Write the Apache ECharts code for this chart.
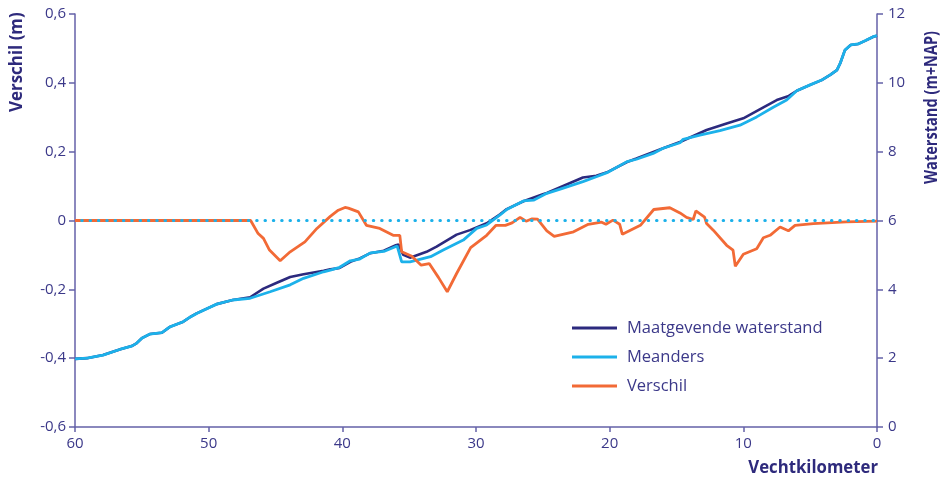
<!DOCTYPE html>
<html>
<head>
<meta charset="utf-8">
<script src="https://cdn.jsdelivr.net/npm/echarts@6/dist/echarts.min.js"></script>
<style>
  html, body { margin: 0; padding: 0; background: #ffffff; }
  #chart { width: 948px; height: 480px; }
</style>
</head>
<body>
<div id="chart"></div>
<script>
// River kilometre along the Vecht (x) with water levels and their difference.
const kmTicks = [60, 50, 40, 30, 20, 10, 0];
const verschilTicks = [-0.6, -0.4, -0.2, 0, 0.2, 0.4, 0.6];
const waterstandTicks = [0, 2, 4, 6, 8, 10, 12];

// Meanders: [km, waterstand m+NAP]
const meanders = [
  [60, 1.98], [59.1, 2.0], [57.9, 2.09], [56.6, 2.26], [55.76, 2.35], [55.4, 2.43],
  [55.0, 2.58], [54.4, 2.70], [53.5, 2.74], [52.9, 2.91], [51.9, 3.06], [51.4, 3.19],
  [50.9, 3.30], [49.4, 3.57], [48.2, 3.69], [46.9, 3.74], [45.4, 3.93], [43.9, 4.13],
  [42.9, 4.32], [41.4, 4.51], [40.9, 4.56], [40.2, 4.64], [39.4, 4.83], [38.7, 4.88],
  [37.9, 5.06], [36.9, 5.10], [35.9, 5.26], [35.56, 4.80], [34.94, 4.80], [33.4, 4.95],
  [32.45, 5.14], [30.95, 5.43], [29.95, 5.77], [29.2, 5.87], [28.2, 6.16], [27.7, 6.32],
  [26.45, 6.57], [25.7, 6.59], [24.7, 6.79], [23.7, 6.91], [22.0, 7.13], [21.0, 7.27],
  [20.2, 7.39], [18.7, 7.71], [18.0, 7.78], [16.75, 7.95], [16.0, 8.10], [14.74, 8.26],
  [14.5, 8.36], [13.25, 8.48], [11.75, 8.61], [10.25, 8.77], [9.0, 9.01], [7.76, 9.29],
  [6.76, 9.50], [6.0, 9.77], [5.0, 9.94], [4.14, 10.08], [3.5, 10.23], [3.0, 10.37],
  [2.75, 10.57], [2.4, 10.95], [1.97, 11.10], [1.4, 11.13], [0.9, 11.22], [0.28, 11.34],
  [0, 11.37]
];

// Maatgevende waterstand: [km, waterstand m+NAP]
const maatgevend = [
  [60, 1.98], [59.1, 2.0], [57.9, 2.09], [56.6, 2.26], [55.76, 2.35], [55.4, 2.43],
  [55.0, 2.58], [54.4, 2.70], [53.5, 2.74], [52.9, 2.91], [51.9, 3.06], [51.4, 3.19],
  [50.9, 3.30], [49.4, 3.57], [48.2, 3.69], [46.9, 3.77], [45.9, 4.02], [44.9, 4.19],
  [43.9, 4.36], [42.9, 4.44], [41.4, 4.54], [40.9, 4.58], [40.2, 4.62], [39.4, 4.80],
  [38.7, 4.90], [37.9, 5.05], [36.9, 5.12], [36.0, 5.28], [35.8, 5.30], [35.44, 5.00],
  [34.94, 4.92], [33.7, 5.09], [32.95, 5.24], [31.45, 5.59], [30.45, 5.72], [29.2, 5.92],
  [28.2, 6.18], [27.7, 6.33], [26.45, 6.56], [25.0, 6.76], [24.7, 6.80], [22.0, 7.25],
  [21.0, 7.30], [20.2, 7.40], [18.7, 7.70], [18.0, 7.80], [16.0, 8.10], [14.74, 8.28],
  [12.75, 8.63], [11.25, 8.82], [10.0, 8.97], [8.5, 9.29], [7.5, 9.50], [6.6, 9.62],
  [6.0, 9.77], [5.0, 9.94], [4.14, 10.08], [3.5, 10.23], [3.0, 10.37], [2.75, 10.57],
  [2.4, 10.95], [1.97, 11.10], [1.4, 11.13], [0.9, 11.22], [0.28, 11.34], [0, 11.37]
];

// Verschil: [km, m]
const verschil = [
  [60, 0], [46.86, 0], [46.3, -0.038], [45.9, -0.052], [45.45, -0.086], [44.65, -0.117],
  [43.9, -0.091], [42.8, -0.062], [41.9, -0.023], [40.9, 0.012], [40.3, 0.030],
  [39.8, 0.038], [39.55, 0.036], [38.8, 0.025], [38.2, -0.014], [37.2, -0.023],
  [36.2, -0.043], [35.7, -0.043], [35.56, -0.091], [34.8, -0.104], [34.1, -0.130],
  [33.5, -0.125], [32.8, -0.166], [32.15, -0.207], [31.45, -0.154], [30.4, -0.079],
  [29.2, -0.043], [28.5, -0.014], [27.8, -0.014], [27.3, -0.007], [26.7, 0.009],
  [26.25, -0.002], [25.8, 0.005], [25.4, 0.004], [24.7, -0.030], [24.15, -0.046],
  [22.7, -0.033], [21.6, -0.011], [20.6, -0.005], [20.28, -0.011], [19.75, 0.001],
  [19.25, -0.011], [19.05, -0.040], [17.7, -0.014], [16.7, 0.032], [15.5, 0.037],
  [14.74, 0.022], [14.25, 0.009], [13.75, 0.003], [13.55, 0.028], [12.9, 0.010],
  [12.75, -0.009], [12.25, -0.028], [11.25, -0.072], [10.77, -0.086], [10.6, -0.133],
  [10.0, -0.098], [9.0, -0.082], [8.5, -0.050], [8.0, -0.043], [7.25, -0.019],
  [6.63, -0.030], [6.13, -0.014], [4.76, -0.009], [2.3, -0.004], [0, -0.002]
];

const FONT = '"Open Sans", sans-serif';
const AXIS_COLOR = '#6461a8';
const LABEL_COLOR = '#3b3889';
const TITLE_COLOR = '#2e2a7c';

const fmtComma = v => (Math.abs(v) < 1e-9 ? '0' : v.toFixed(1).replace('.', ','));

const chart = echarts.init(document.getElementById('chart'), null, { renderer: 'canvas' });

const tickStyle = { show: true, inside: false, length: 6, lineStyle: { color: AXIS_COLOR, width: 1.5 } };

chart.setOption({
  animation: false,
  backgroundColor: '#ffffff',
  grid: { left: 75, right: 71, top: 14, bottom: 53, containLabel: false },
  legend: {
    orient: 'vertical',
    left: 567,
    top: 313,
    itemWidth: 45,
    itemHeight: 3,
    itemGap: 9,
    icon: 'rect',
    data: ['Maatgevende waterstand', 'Meanders', 'Verschil'],
    textStyle: { fontFamily: FONT, fontSize: 16.5, color: LABEL_COLOR, lineHeight: 20, padding: [0, 0, 0, 5] }
  },
  xAxis: {
    type: 'value',
    inverse: true,
    min: kmTicks[kmTicks.length - 1],
    max: kmTicks[0],
    interval: 10,
    axisLine: { show: true, onZero: false, lineStyle: { color: AXIS_COLOR, width: 1.5 } },
    axisTick: Object.assign({}, tickStyle, { length: 5 }),
    axisLabel: { margin: 9, fontFamily: FONT, fontSize: 15, color: LABEL_COLOR },
    splitLine: { show: false }
  },
  yAxis: [
    {
      type: 'value',
      position: 'left',
      min: verschilTicks[0],
      max: verschilTicks[verschilTicks.length - 1],
      interval: 0.2,
      axisLine: { show: true, onZero: false, lineStyle: { color: AXIS_COLOR, width: 1.5 } },
      axisTick: tickStyle,
      axisLabel: { margin: 9, fontFamily: FONT, fontSize: 15, color: LABEL_COLOR, formatter: fmtComma },
      splitLine: { show: false }
    },
    {
      type: 'value',
      position: 'right',
      min: waterstandTicks[0],
      max: waterstandTicks[waterstandTicks.length - 1],
      interval: 2,
      axisLine: { show: true, onZero: false, lineStyle: { color: AXIS_COLOR, width: 1.5 } },
      axisTick: tickStyle,
      axisLabel: { margin: 11, fontFamily: FONT, fontSize: 15, color: LABEL_COLOR },
      splitLine: { show: false }
    }
  ],
  series: [
    {
      name: 'Maatgevende waterstand',
      type: 'line',
      yAxisIndex: 1,
      data: maatgevend,
      symbol: 'none',
      color: '#2c2a7e',
      lineStyle: { color: '#2c2a7e', width: 2.6 },
      z: 2
    },
    {
      name: 'Meanders',
      type: 'line',
      yAxisIndex: 1,
      data: meanders,
      symbol: 'none',
      color: '#1cb1ea',
      lineStyle: { color: '#1cb1ea', width: 2.8 },
      z: 3
    },
    {
      name: 'Verschil',
      type: 'line',
      yAxisIndex: 0,
      data: verschil,
      symbol: 'none',
      color: '#f26a36',
      lineStyle: { color: '#f26a36', width: 2.8 },
      z: 4
    },
    {
      // dotted zero reference on the Verschil axis
      name: 'nul',
      type: 'line',
      yAxisIndex: 0,
      data: [[kmTicks[0], 0], [kmTicks[kmTicks.length - 1], 0]],
      symbol: 'none',
      silent: true,
      lineStyle: { color: '#1cb1ea', width: 3, type: [0.5, 7.83], cap: 'round', dashOffset: 1.6 },
      z: 5
    }
  ],
  graphic: [
    {
      type: 'text',
      x: 8, y: 112,
      rotation: Math.PI / 2,
      scaleX: 0.94,
      style: { text: 'Verschil (m)', font: 'bold 18px ' + FONT, fill: TITLE_COLOR,
               textAlign: 'left', textVerticalAlign: 'top' }
    },
    {
      type: 'text',
      x: 923, y: 184,
      rotation: Math.PI / 2,
      scaleX: 0.81,
      style: { text: 'Waterstand (m+NAP)', font: 'bold 18px ' + FONT, fill: TITLE_COLOR,
               textAlign: 'left', textVerticalAlign: 'top' }
    },
    {
      type: 'text',
      x: 878, y: 468,
      scaleX: 0.93,
      style: { text: 'Vechtkilometer', font: 'bold 18px ' + FONT, fill: TITLE_COLOR,
               textAlign: 'right', textVerticalAlign: 'middle' }
    }
  ]
});
</script>
</body>
</html>
